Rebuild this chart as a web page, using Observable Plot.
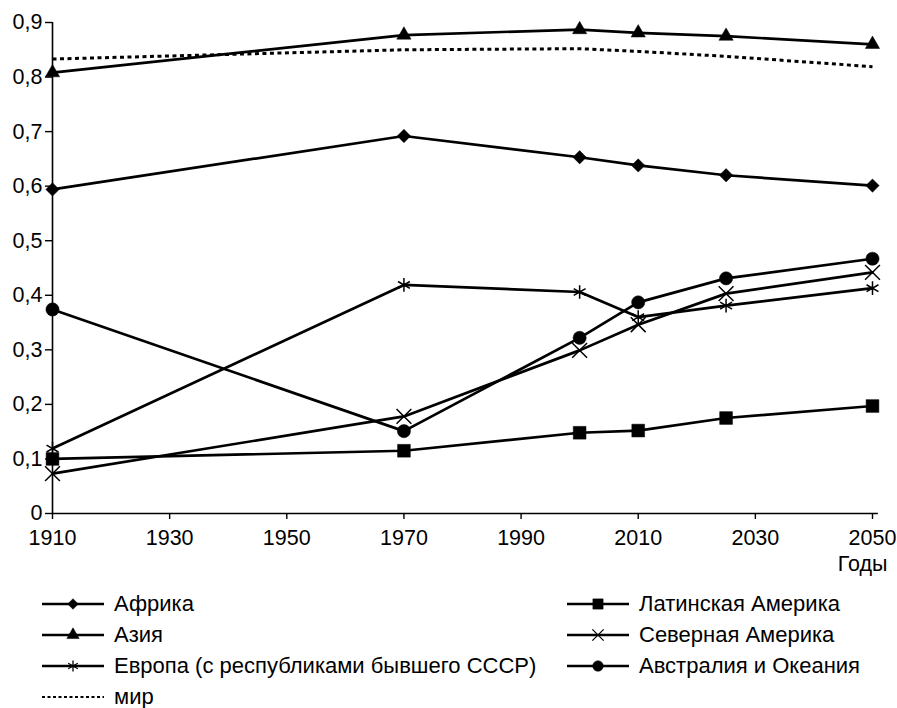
<!DOCTYPE html>
<html>
<head>
<meta charset="utf-8">
<script src="https://cdn.jsdelivr.net/npm/d3@7"></script>
<script src="https://cdn.jsdelivr.net/npm/@observablehq/plot@0.6"></script>
<style>
  html, body { margin: 0; padding: 0; background: #fff; }
  body { width: 897px; height: 708px; overflow: hidden; font-family: "Liberation Sans", Arial, sans-serif; }
  #legend { position: relative; width: 897px; height: 128px; }
  .item { position: absolute; display: flex; align-items: center; font-size: 22px; color: #000; white-space: nowrap; }
  .item svg { display: block; margin-right: 10px; }
</style>
</head>
<body>
<div id="chart"></div>
<div id="legend"></div>
<script>
const years = [1910, 1970, 2000, 2010, 2025, 2050];
const seriesNames = ["Африка", "Азия", "Европа (с республиками бывшего СССР)", "Латинская Америка", "Северная Америка", "Австралия и Океания", "мир"];
const africa = [0.594, 0.692, 0.653, 0.638, 0.620, 0.601];
const asia = [0.808, 0.877, 0.887, 0.881, 0.875, 0.860];
const europe = [0.119, 0.419, 0.406, 0.360, 0.381, 0.413];
const latinAmerica = [0.100, 0.115, 0.148, 0.152, 0.175, 0.197];
const northAmerica = [0.073, 0.178, 0.299, 0.346, 0.403, 0.442];
const oceania = [0.374, 0.151, 0.322, 0.387, 0.431, 0.467];
const world = [0.833, 0.850, 0.852, 0.847, 0.838, 0.819];
const xTicks = [1910, 1930, 1950, 1970, 1990, 2010, 2030, 2050];
const yTicks = [0, 0.1, 0.2, 0.3, 0.4, 0.5, 0.6, 0.7, 0.8, 0.9];
const xLabel = "Годы";

const valuesList = [africa, asia, europe, latinAmerica, northAmerica, oceania, world];
const symbols = ["diamond2", "triangle", "asterisk", "square", "times", "circle", null];
const radii = [6, 5.3, 6.5, 7.2, 6.8, 6.6, 0];
const filled = [true, true, false, true, false, true, false];

const rows = [];
valuesList.forEach((vals, i) => {
  vals.forEach((v, j) => rows.push({series: seriesNames[i], idx: i, year: years[j], value: v}));
});

const fmt = d => d === 0 ? "0" : d.toFixed(1).replace(".", ",");

const marks = [
  Plot.ruleY([0], {x1: 1910, x2: 2051, stroke: "#000", strokeWidth: 1.6}),
  Plot.ruleX([1910], {y1: 0, y2: 0.9, stroke: "#000", strokeWidth: 1.6}),
  Plot.axisX({ticks: xTicks, tickFormat: d => String(d), label: null, tickSize: 6, tickPadding: 10, fontSize: 21.5, stroke: "#000", strokeWidth: 1.4}),
  Plot.axisY({ticks: yTicks, tickFormat: fmt, label: null, tickSize: 7, tickPadding: 3, fontSize: 21.5, stroke: "#000", strokeWidth: 1.4}),
  Plot.text([xLabel], {frameAnchor: "bottom-right", dx: 15, dy: 51, textAnchor: "end", lineAnchor: "middle", fontSize: 21.5, fill: "#000"})
];

valuesList.forEach((vals, i) => {
  const data = rows.filter(r => r.idx === i);
  if (i === 6) {
    marks.push(Plot.line(data, {x: "year", y: "value", stroke: "#000", strokeWidth: 3, strokeDasharray: "4,3.5", strokeLinecap: "butt"}));
  } else {
    marks.push(Plot.line(data, {x: "year", y: "value", stroke: "#000", strokeWidth: 2.7}));
  }
});
valuesList.forEach((vals, i) => {
  if (!symbols[i]) return;
  const data = rows.filter(r => r.idx === i);
  marks.push(Plot.dot(data, {
    x: "year", y: "value", symbol: () => symbols[i], r: radii[i],
    fill: filled[i] ? "#000" : "none",
    stroke: "#000", strokeWidth: filled[i] ? 0.5 : 1.5
  }));
});

const chart = Plot.plot({
  width: 897,
  height: 580,
  marginLeft: 52,
  marginRight: 25,
  marginTop: 22,
  marginBottom: 67,
  style: {fontFamily: "Liberation Sans, Arial, sans-serif", fontSize: "21px", color: "#000", background: "#fff", overflow: "visible"},
  x: {domain: [1910, 2050], axis: null},
  y: {domain: [0, 0.9], axis: null},
  symbol: {type: "identity"},
  marks
});
document.getElementById("chart").appendChild(chart);

// Legend
const legend = document.getElementById("legend");
const pos = [
  [42, 24], [42, 55], [42, 86],
  [567, 24], [567, 55], [567, 86],
  [42, 117]
];
const d3sym = {diamond2: d3.symbolDiamond2, triangle: d3.symbolTriangle, asterisk: d3.symbolAsterisk, square: d3.symbolSquare, times: d3.symbolTimes, circle: d3.symbolCircle};
const legendR = [4.8, 4.6, 5.2, 5.8, 5.2, 5.3, 0];
seriesNames.forEach((name, i) => {
  const div = document.createElement("div");
  div.className = "item";
  div.style.left = pos[i][0] + "px";
  div.style.top = (pos[i][1] - 15) + "px";
  div.style.height = "30px";
  const w = 62, h = 30;
  let inner;
  if (i === 6) {
    inner = `<line x1="0" x2="${w}" y1="15" y2="15" stroke="#000" stroke-width="2" stroke-dasharray="3,2.5"/>`;
  } else {
    const p = d3.symbol(d3sym[symbols[i]], Math.PI * legendR[i] * legendR[i])();
    inner = `<line x1="0" x2="${w}" y1="15" y2="15" stroke="#000" stroke-width="2.4"/>` +
      `<path d="${p}" transform="translate(${w/2},15)" fill="${filled[i] ? "#000" : "none"}" stroke="#000" stroke-width="${filled[i] ? 0.5 : 1.3}"/>`;
  }
  div.innerHTML = `<svg width="${w}" height="${h}">${inner}</svg><span>${name}</span>`;
  legend.appendChild(div);
});
</script>
</body>
</html>
